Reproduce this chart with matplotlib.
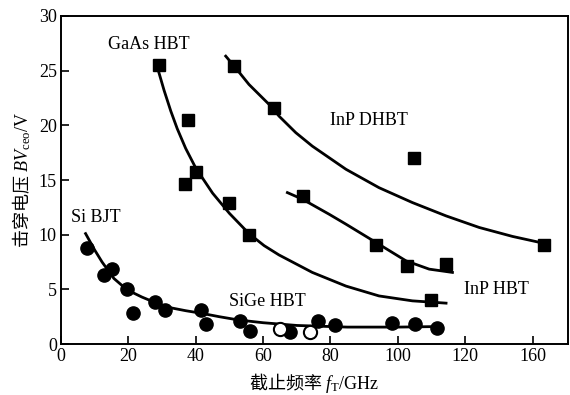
import matplotlib
matplotlib.use("Agg")
import matplotlib.pyplot as plt
import numpy as np

plt.rcParams['font.family'] = ['Liberation Serif', 'Noto Sans CJK SC']
plt.rcParams['mathtext.fontset'] = 'custom'
plt.rcParams['mathtext.rm'] = 'Liberation Serif'
plt.rcParams['mathtext.it'] = 'Liberation Serif:italic'
plt.rcParams['mathtext.sf'] = 'Noto Sans CJK SC'

# Si BJT / SiGe HBT, filled circles
si_x = [7.8, 12.7, 15.2, 19.6, 21.3, 27.9, 30.8, 41.7, 42.9, 53.2, 56.2, 68.0, 76.4, 81.2, 98.2, 105.1, 111.5]
si_y = [8.8, 6.3, 6.9, 5.0, 2.8, 3.8, 3.1, 3.1, 1.8, 2.1, 1.2, 1.1, 2.1, 1.7, 1.9, 1.8, 1.5]
# SiGe HBT, open circles
sige_x = [65.1, 74.0]
sige_y = [1.4, 1.1]
si_curve_x = [7.3, 10.0, 12.2, 15.7, 19.6, 24.0, 27.9, 32.0, 37.0, 41.9, 47.0, 52.7, 60.0, 70.0, 85.0, 100.0, 112.0]
si_curve_y = [10.1, 8.6, 7.5, 6.0, 4.96, 4.3, 3.8, 3.35, 3.05, 2.8, 2.5, 2.2, 1.95, 1.7, 1.55, 1.55, 1.6]

# GaAs HBT squares
gaas_x = [29.1, 37.8, 40.2, 36.8, 49.9, 55.8]
gaas_y = [25.5, 20.5, 15.7, 14.6, 12.9, 10.0]
gaas_curve_x = [28.9, 30.6, 32.6, 34.5, 37.0, 40.0, 45.0, 50.0, 55.8, 60.3, 64.7, 74.6, 84.6, 94.4, 104.3, 114.3]
gaas_curve_y = [25.0, 23.2, 21.3, 19.7, 17.9, 16.1, 13.8, 11.95, 10.1, 9.0, 8.15, 6.55, 5.3, 4.4, 3.95, 3.74]

# InP HBT squares
inp_x = [71.7, 93.6, 102.6, 114.3, 109.8]
inp_y = [13.5, 9.1, 7.15, 7.3, 4.05]
inp_curve_x = [67.2, 71.7, 79.6, 84.6, 93.5, 102.4, 109.3, 116.2]
inp_curve_y = [13.85, 13.24, 11.87, 10.96, 9.29, 7.61, 6.85, 6.55]

# InP DHBT squares
dhbt_x = [51.4, 63.3, 104.8, 167.0]
dhbt_y = [25.4, 21.6, 17.05, 9.1]
dhbt_curve_x = [48.9, 51.4, 55.8, 62.8, 64.7, 69.7, 74.6, 84.6, 94.4, 104.3, 114.3, 128.3, 148.1, 167.0]
dhbt_curve_y = [26.33, 25.42, 23.74, 21.6, 20.85, 19.33, 18.1, 15.98, 14.3, 12.94, 11.72, 10.66, 9.84, 9.2]

x_ticks = [0, 20, 40, 60, 80, 100, 120, 160]
y_ticks = [0, 5, 10, 15, 20, 25, 30]


# the original axis squeezes 120-160 into one tick step
def fwd(x):
    x = np.asarray(x, dtype=float)
    return np.where(x <= 120, x, 120 + (x - 120) / 2)


def inv(x):
    x = np.asarray(x, dtype=float)
    return np.where(x <= 120, x, 120 + (x - 120) * 2)


fig = plt.figure(figsize=(5.7, 3.95), dpi=100)
ax = fig.add_axes([0.107, 0.129, 0.8895, 0.8305])
ax.set_xscale('function', functions=(fwd, inv))

lw = 2.0
for cx, cy in [(si_curve_x, si_curve_y), (gaas_curve_x, gaas_curve_y),
               (inp_curve_x, inp_curve_y), (dhbt_curve_x, dhbt_curve_y)]:
    ax.plot(cx, cy, color='black', lw=lw, zorder=2, solid_joinstyle='round')

ax.plot(si_x, si_y, 'o', ms=9.5, color='black', zorder=3)
ax.plot(sige_x, sige_y, 'o', ms=9.5, mfc='white', mec='black', mew=1.5, zorder=3)
for sx, sy in [(gaas_x, gaas_y), (inp_x, inp_y), (dhbt_x, dhbt_y)]:
    ax.plot(sx, sy, 's', ms=8.5, color='black', zorder=3)

fs = 13
ax.text(26.1, 27.4, 'GaAs HBT', fontsize=fs, ha='center', va='center')
ax.text(91.5, 20.4, 'InP DHBT', fontsize=fs, ha='center', va='center')
ax.text(10.4, 11.6, 'Si BJT', fontsize=fs, ha='center', va='center')
ax.text(61.2, 3.9, 'SiGe HBT', fontsize=fs, ha='center', va='center')
ax.text(138.4, 5.0, 'InP HBT', fontsize=fs, ha='center', va='center')

ax.set_xlim(0, 181)
ax.set_ylim(0, 30)
ax.set_xticks(x_ticks)
ax.set_xticklabels([str(t) for t in x_ticks])
ax.set_yticks(y_ticks)
ax.minorticks_off()
ax.tick_params(direction='in', length=6, width=1.2, labelsize=fs, pad=3)
for s in ax.spines.values():
    s.set_linewidth(1.4)

ax.set_xlabel(r'$\mathsf{截止频率}\ \mathit{f}_{\mathrm{T}}\mathrm{/GHz}$', fontsize=fs, labelpad=4)
ax.set_ylabel(r'$\mathsf{击穿电压}\ \mathit{BV}_{\mathrm{ceo}}\mathrm{/V}$', fontsize=fs, labelpad=4)

fig.savefig('out.png', dpi=100)
